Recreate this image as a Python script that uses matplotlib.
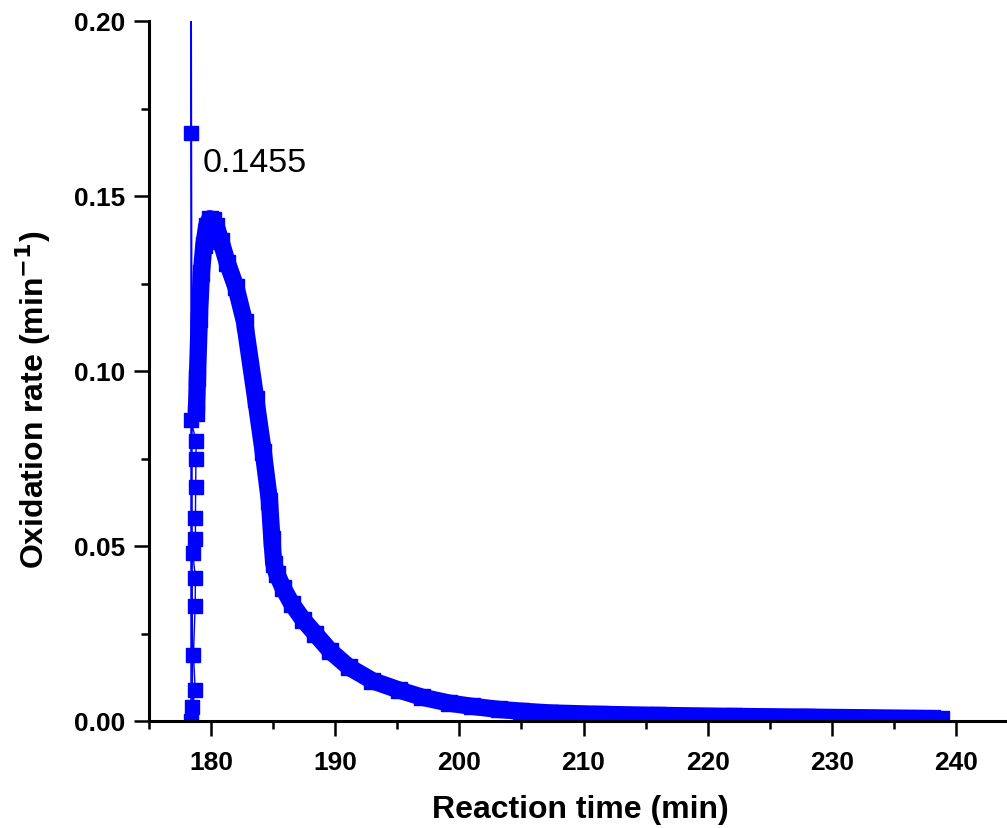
import matplotlib.pyplot as plt

# spike at the start of the run (scattered points, thin connecting line)
spike_time = [178.38, 178.38, 178.38, 178.50, 178.72, 178.58, 178.72, 178.74,
              178.52, 178.74, 178.74, 178.76, 178.78, 178.80, 178.36, 178.82]
spike_rate = [0.000, 0.168, 0.260, 0.004, 0.009, 0.019, 0.033, 0.041,
              0.048, 0.052, 0.058, 0.067, 0.075, 0.080, 0.086, 0.088]

# main oxidation peak and decay (dense points -> thick band)
main_time = [178.82, 178.90, 179.05, 179.22, 179.42, 179.65, 179.90,
             180.15, 180.40, 180.80, 181.30, 182.00, 182.70, 183.60, 184.20,
             184.70, 184.90, 185.05, 185.30, 185.80, 186.50, 187.40, 188.40,
             189.60, 191.10, 193.00, 195.10, 197.00, 199.20, 201.00, 203.20,
             205.00, 207.30, 211.30, 216.00, 222.10, 228.00, 233.00, 238.80]
main_rate = [0.088, 0.098, 0.115, 0.128, 0.136, 0.1415, 0.1435,
             0.1432, 0.1415, 0.137, 0.131, 0.124, 0.114, 0.092, 0.077,
             0.063, 0.052, 0.045, 0.042, 0.038, 0.0335, 0.029, 0.0249,
             0.020, 0.0154, 0.0115, 0.0089, 0.0068, 0.0051, 0.0042, 0.0033,
             0.0028, 0.0023, 0.0019, 0.0016, 0.0013, 0.0011, 0.0009, 0.0007]

peak_label = "0.1455"

plt.rcParams['font.family'] = ['Liberation Sans', 'DejaVu Sans']

fig = plt.figure(figsize=(10.07, 8.29), dpi=100)
ax = fig.add_axes([149 / 1007, 107 / 829, 869 / 1007, 700 / 829])

blue = '#0000FF'

# thin line + square markers for the spike
ax.plot(spike_time, spike_rate, color=blue, lw=1, marker='s', ms=9.5,
        mec=blue, mfc=blue)
# main curve drawn as a thick band of overlapping squares
ax.plot(main_time, main_rate, color=blue, lw=12.5, solid_joinstyle='round',
        solid_capstyle='butt')
ax.plot(main_time, main_rate, color=blue, lw=0, marker='s', ms=11,
        mec=blue, mfc=blue)

ax.text(179.35, 0.1597, peak_label, fontsize=24.5, va='center', ha='left')

ax.set_xlim(175, 245)
ax.set_ylim(0, 0.2)
ax.set_xticks([180, 190, 200, 210, 220, 230, 240])
ax.set_xticks([175, 185, 195, 205, 215, 225, 235, 245], minor=True)
ax.set_yticks([0.00, 0.05, 0.10, 0.15, 0.20])
ax.set_yticks([0.025, 0.075, 0.125, 0.175], minor=True)
ax.set_yticklabels(['0.00', '0.05', '0.10', '0.15', '0.20'])

for s in ['top', 'right']:
    ax.spines[s].set_visible(False)
for s in ['left', 'bottom']:
    ax.spines[s].set_linewidth(2.2)

ax.tick_params(which='major', length=11, width=1.8, labelsize=19)
ax.tick_params(axis='x', which='major', pad=10)
ax.tick_params(axis='y', which='major', pad=6)
ax.tick_params(which='minor', length=5.5, width=1.8)
for lab in ax.get_xticklabels() + ax.get_yticklabels():
    lab.set_fontweight('bold')

ax.set_xlabel('Reaction time (min)', fontsize=23, fontweight='bold')
ax.set_ylabel('Oxidation rate (min$^{\\mathbf{-1}}$)', fontsize=23,
              fontweight='bold')
ax.xaxis.set_label_coords(0.496, -0.105)
ax.yaxis.set_label_coords(-0.110, 0.46)

fig.savefig('out.png', dpi=100)
